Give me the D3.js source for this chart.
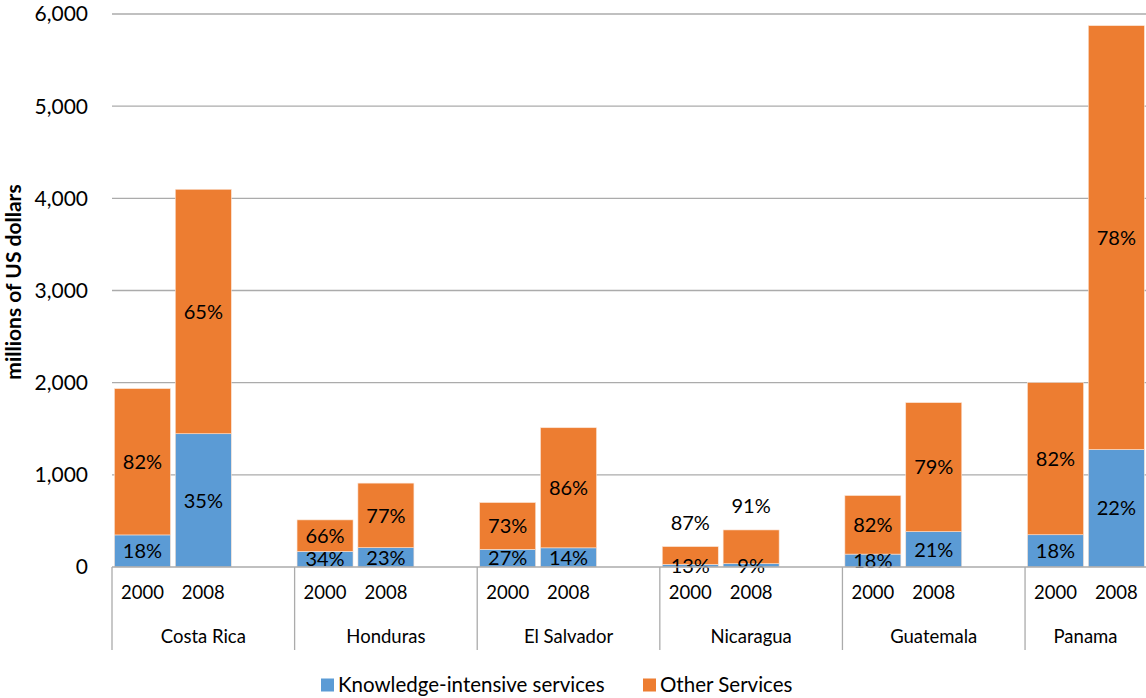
<!DOCTYPE html>
<html>
<head>
<meta charset="utf-8">
<script src="https://cdn.jsdelivr.net/npm/d3@7"></script>
<style>
  body { margin: 0; background: #fff; }
  svg { display: block; font-family: Lato, "Noto Sans", sans-serif; }
</style>
</head>
<body>
<div id="chart"></div>
<script>
const countries = ["Costa Rica", "Honduras", "El Salvador", "Nicaragua", "Guatemala", "Panama"];
const years = ["2000", "2008"];
// millions of US dollars, [2000, 2008] per country
const knowledgeValues = [[348, 1446], [170, 210], [192, 208], [29, 36], [140, 384], [350, 1275]];
const otherValues = [[1587, 2652], [341, 700], [507, 1303], [192, 366], [635, 1399], [1650, 4598]];
const knowledgeLabels = [["18%", "35%"], ["34%", "23%"], ["27%", "14%"], ["13%", "9%"], ["18%", "21%"], ["18%", "22%"]];
const otherLabels = [["82%", "65%"], ["66%", "77%"], ["73%", "86%"], ["87%", "91%"], ["82%", "79%"], ["82%", "78%"]];
const yTicks = [0, 1000, 2000, 3000, 4000, 5000, 6000];
const seriesNames = ["Knowledge-intensive services", "Other Services"];
const colors = ["#5B9BD5", "#ED7D31"];

const width = 1146, height = 698;
const plotLeft = 112, plotTop = 14, plotBottom = 567;
const step = 60.87;

const svg = d3.select("#chart").append("svg")
  .attr("width", width)
  .attr("height", height);

// one slot per year plus an empty slot after each country
const slots = [];
countries.forEach((c) => {
  years.forEach((yr) => slots.push(c + "|" + yr));
  slots.push(c + "|gap");
});

const x = d3.scaleBand()
  .domain(slots)
  .range([plotLeft, plotLeft + slots.length * step])
  .paddingInner(0.08)
  .paddingOuter(0.04);

const y = d3.scaleLinear().domain([0, 6000]).range([plotBottom, plotTop]);

////////////////////////////////////////////////////////////////////////////////////

// gridlines
svg.append("g")
  .selectAll("line")
  .data(yTicks.filter((d) => d > 0))
  .enter()
  .append("line")
  .attr("x1", plotLeft)
  .attr("x2", width)
  .attr("y1", (d) => y(d))
  .attr("y2", (d) => y(d))
  .style("stroke", "#ABABAB")
  .style("stroke-width", 1.3);

// y tick labels
svg.append("g")
  .selectAll("text")
  .data(yTicks)
  .enter()
  .append("text")
  .attr("x", 88)
  .attr("y", (d) => y(d))
  .attr("dy", "0.35em")
  .attr("text-anchor", "end")
  .style("font-size", "21px")
  .style("fill", "#000")
  .text((d) => d3.format(",")(d));

// y axis title
svg.append("text")
  .attr("transform", "translate(14,282) rotate(-90)")
  .attr("text-anchor", "middle")
  .attr("dy", "0.35em")
  .style("font-size", "21px")
  .style("font-weight", "bold")
  .text("millions of US dollars");

////////////////////////////////////////////////////////////////////////////////////

const bars = [];
countries.forEach((c, i) => {
  years.forEach((yr, j) => {
    const k = knowledgeValues[i][j];
    const o = otherValues[i][j];
    bars.push({ key: c + "|" + yr, year: yr, s: 0, y0: 0, y1: k, label: knowledgeLabels[i][j] });
    bars.push({ key: c + "|" + yr, year: yr, s: 1, y0: k, y1: k + o, label: otherLabels[i][j] });
  });
});

svg.append("g")
  .selectAll("rect")
  .data(bars)
  .enter()
  .append("rect")
  .attr("x", (d) => x(d.key))
  .attr("width", x.bandwidth())
  .attr("y", (d) => y(d.y1))
  .attr("height", (d) => y(d.y0) - y(d.y1))
  .style("fill", (d) => colors[d.s])
  .style("stroke", "#fbe3d3")
  .style("stroke-width", 0.6);

// data labels: centred in segment, or above the bar when the whole bar is short
svg.append("g")
  .selectAll("text")
  .data(bars)
  .enter()
  .append("text")
  .attr("x", (d) => x(d.key) + x.bandwidth() / 2)
  .attr("y", (d) => {
    if (d.s === 1 && plotBottom - y(d.y1) < 42) return y(d.y1) - 24;
    return (y(d.y0) + y(d.y1)) / 2;
  })
  .attr("dy", "0.36em")
  .attr("text-anchor", "middle")
  .style("font-size", "20px")
  .style("fill", "#000")
  .text((d) => d.label);

////////////////////////////////////////////////////////////////////////////////////

// category axis
svg.append("line")
  .attr("x1", plotLeft)
  .attr("x2", width)
  .attr("y1", plotBottom)
  .attr("y2", plotBottom)
  .style("stroke", "#ABABAB")
  .style("stroke-width", 1.3);

const groupEdges = countries.map((c) => x(c + "|2000") - x.step() * x.paddingOuter());
groupEdges.push(plotLeft + slots.length * step);

svg.append("g")
  .selectAll("line")
  .data(groupEdges)
  .enter()
  .append("line")
  .attr("x1", (d) => d)
  .attr("x2", (d) => d)
  .attr("y1", plotBottom)
  .attr("y2", 650)
  .style("stroke", "#ABABAB")
  .style("stroke-width", 1.3);

svg.append("g")
  .selectAll("text")
  .data(slots.filter((s) => !s.endsWith("gap")))
  .enter()
  .append("text")
  .attr("x", (d) => x(d) + x.bandwidth() / 2)
  .attr("y", 593)
  .attr("dy", "0.35em")
  .attr("text-anchor", "middle")
  .style("font-size", "18.5px")
  .text((d) => d.split("|")[1]);

// country names centred on the visible part of their group
svg.append("g")
  .selectAll("text")
  .data(countries)
  .enter()
  .append("text")
  .attr("x", (d, i) => (groupEdges[i] + Math.min(groupEdges[i + 1], width)) / 2)
  .attr("y", 637)
  .attr("dy", "0.35em")
  .attr("text-anchor", "middle")
  .style("font-size", "18.5px")
  .text((d) => d);

////////////////////////////////////////////////////////////////////////////////////

// legend
const legendX = [321, 643];
const legend = svg.append("g")
  .selectAll("g")
  .data(seriesNames)
  .enter()
  .append("g")
  .attr("transform", (d, i) => "translate(" + legendX[i] + ",685)");

legend.append("rect")
  .attr("x", 0)
  .attr("y", -6.5)
  .attr("width", 13)
  .attr("height", 13)
  .style("fill", (d, i) => colors[i]);

legend.append("text")
  .attr("x", 17)
  .attr("y", 0)
  .attr("dy", "0.35em")
  .style("font-size", "20.5px")
  .text((d) => d);
</script>
</body>
</html>
